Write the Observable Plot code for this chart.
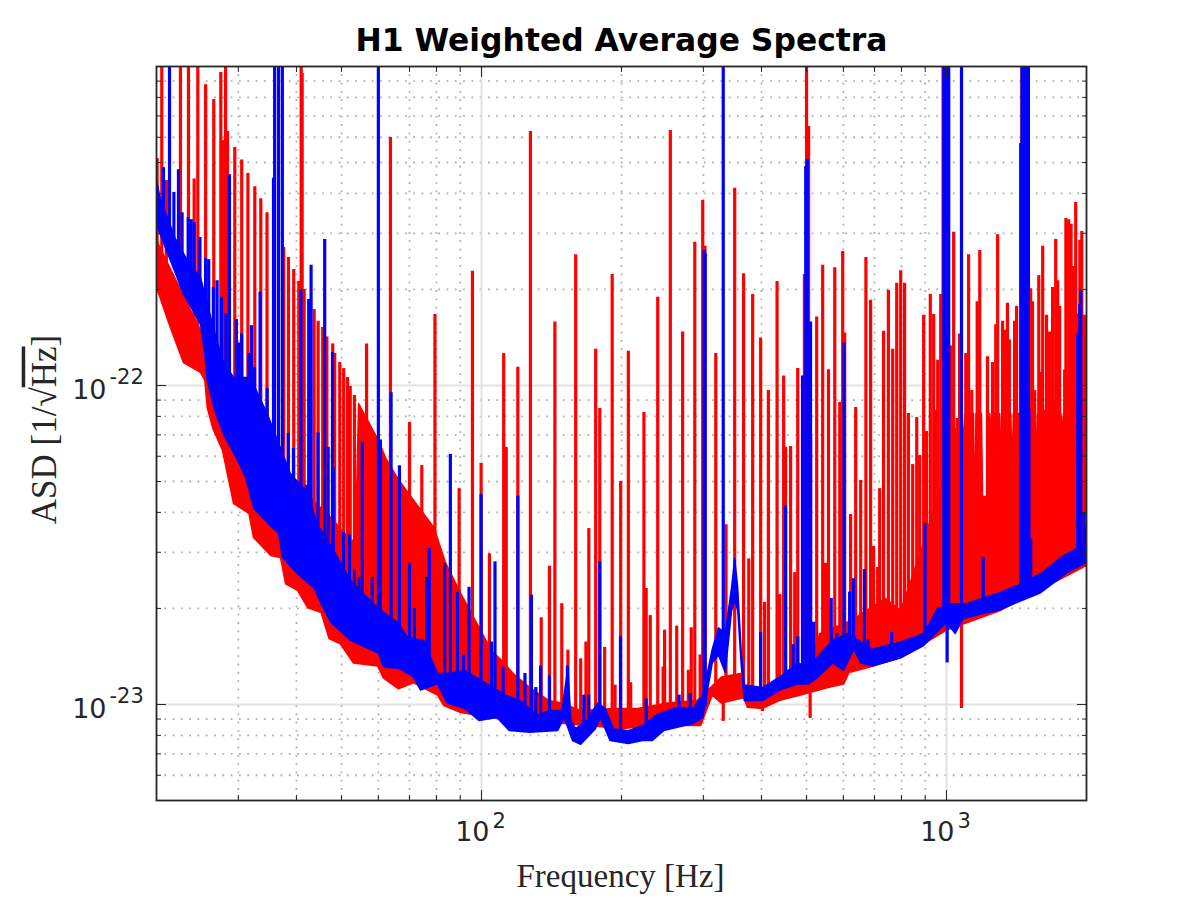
<!DOCTYPE html>
<html>
<head>
<meta charset="utf-8">
<script src="https://cdn.jsdelivr.net/npm/d3@7"></script>
<script src="https://cdn.jsdelivr.net/npm/@observablehq/plot@0.6"></script>
<style>
  body { margin: 0; background: white; }
</style>
</head>
<body>
<div id="chart"></div>
<script>
// all ASD values below are in units of 1e-23 1/sqrt(Hz), pairs are [frequency, asd]
const asdUnit = 1e-23

const redLow = [[20,20.3],[21.42,15.2],[22.85,11.8],[24.86,11],[25.4,10.4],[25.71,8.53],[26.4,7.38],[27.73,6.26],[29.28,4.27],[31.6,3.97],[32.33,3.34],[35.2,2.93],[36.95,2.89],[37.9,2.39],[40.2,2.28],[42.3,2.01],[45.2,1.94],[47,1.61],[49.7,1.55],[53,1.35],[59.75,1.32],[61.55,1.21],[66.3,1.12],[71.4,1.17],[80.4,1.07],[82.9,0.993],[90.2,0.944],[104.7,0.91],[150.6,0.871],[203,0.84],[227,0.859],[296,0.859],[313.5,1.07],[327.9,1.01],[366,1.05],[373,0.98],[402,0.972],[438,1.03],[486,1.07],[556,1.13],[601,1.16],[617,1.26],[684.5,1.31],[797,1.4],[1000,1.71],[1305,1.97],[2000,2.73]]

const redHigh = [[20,28.5],[25.4,14],[29.28,8.97],[37.5,5.42],[48.1,3.77],[52.2,3.27],[53.6,3.27],[54.4,8.78],[57.2,7.66],[59.75,6.82],[62.3,5.9],[66.3,5.07],[72.8,4.21],[79,3.59],[83.6,2.79],[90.2,2.23],[101.5,1.62],[104.7,1.48],[109.6,1.39],[117,1.25],[127,1.13],[139.5,1.03],[148.9,1.01],[163.4,0.957],[192,0.972],[216.5,0.972],[251,1.01],[291,1.03],[306.8,1.11],[327.9,1.22],[360.6,1.25],[366,1.11],[402,1.07],[438,1.16],[491,1.22],[535,1.67],[622,1.83],[738,2.15],[797,1.97],[882,3.04],[946,4.27],[1044,7.23],[1081,8.17],[1088,6.48],[1097,8.17],[1143,8.17],[1150,3.69],[1157,8.17],[1189,8.17],[1195,4.49],[1213,4.49],[1217,3.6],[1225,8.17],[1235,8.17],[1241,6.63],[1247,8.17],[1299,8.17],[1305,4.86],[1312,8.17],[1375,8.17],[1383,5.22],[1392,8.17],[1427,8.17],[1434,4.33],[1441,8.17],[1549,8.17],[1558,6.17],[1569,8.17],[1762,8.17],[1773,7.08],[1784,8.17],[2000,8.17]]

const blueLow = [[20,31.8],[21.42,24.7],[22.85,19.4],[24.86,15.6],[25.4,12.6],[25.71,10.4],[26.8,8.17],[28.1,6.87],[29.9,5.82],[31.1,5.15],[32.4,4.11],[34.8,3.69],[36.6,3.44],[37.35,2.89],[40.2,2.57],[43.7,2.31],[45.2,2.07],[47.4,1.81],[52.2,1.59],[60,1.45],[61.55,1.31],[66.3,1.3],[71.4,1.22],[73.9,1.11],[80.4,1.16],[84.4,1.01],[92,0.972],[98.7,0.891],[108,0.91],[114.8,0.828],[127,0.818],[145.7,0.828],[150.6,0.91],[156.9,0.771],[163.4,0.75],[175.8,0.84],[180,0.91],[189,0.771],[206.8,0.755],[222,0.771],[233,0.771],[246.5,0.828],[285,0.871],[299,0.91],[313.5,1.35],[323.2,1.43],[334.3,1.26],[345,1.97],[350.7,2.12],[355.6,1.97],[362,1.32],[367.5,1.03],[402,1.03],[438,1.11],[479,1.16],[505,1.16],[526,1.21],[569,1.35],[601,1.28],[632,1.49],[654,1.35],[692,1.32],[797,1.4],[893,1.53],[1000,1.81],[1044,1.67],[1086,1.86],[1202,1.93],[1288,1.97],[1420,2.09],[1594,2.24],[1816,2.59],[2000,2.79]]

const blueHigh = [[20,44.1],[20.4,38.2],[21.1,33.6],[21.9,29.1],[23.3,24.7],[24.86,21.8],[25.4,19.4],[26.5,15.2],[27.73,12],[29.28,10.6],[31.8,10.6],[34.6,8.17],[38.8,5.3],[42.3,4.59],[44.3,3.69],[48.1,3.04],[52.2,2.45],[59.75,2.01],[66,1.81],[69.4,1.62],[75,1.59],[80.4,1.25],[85.6,1.25],[92,1.28],[99.8,1.19],[106,1.13],[112.6,1.07],[121,1.03],[132,0.924],[140,0.957],[148.9,0.957],[153.4,1.31],[155.6,0.891],[159.4,0.84],[168.5,0.891],[177.5,1.01],[184.6,0.972],[192,0.84],[206.8,0.828],[222,0.859],[239,0.931],[264,0.98],[285,0.972],[299,1.07],[313.5,1.49],[323.2,1.74],[334.3,1.67],[345,2.33],[350.3,2.87],[355.5,2.33],[362,1.45],[367.5,1.15],[402,1.13],[438,1.22],[479,1.35],[505,1.31],[526,1.4],[569,1.59],[614,1.67],[692,1.49],[797,1.57],[893,1.67],[957,2],[1022,2.07],[1105,2.07],[1202,2.16],[1288,2.23],[1420,2.36],[1594,2.57],[1785,2.93],[2000,3.2]]

// 130 means the line runs off the top of the frame
const redSpikes = [[20.06,51.5],[20.53,130],[21,43.9],[22.52,130],[23.43,130],[24.1,44.4],[24.54,130],[25.51,87.6],[26.56,78.8],[27.5,95.8],[27.82,58.6],[28.16,130],[28.43,62.6],[29.47,55.7],[30.5,50.9],[31.45,46.2],[32.54,42],[33.52,38.5],[34.57,34.8],[37.54,27.1],[38.44,25.2],[39.46,23.1],[40.46,21.2],[40.94,130],[41.14,95.1],[41.55,20],[43.66,17.3],[44.53,15.9],[45.54,15.2],[46.5,14.2],[47.86,13.5],[48.34,12.6],[49.56,11.8],[50.53,11.3],[51.5,10.6],[52.2,9.93],[53.3,9.3],[56.6,13.5],[63.7,59.9],[70,7.66],[74.4,5.61],[79.4,16.7],[89.5,4.75],[95.6,22.8],[99.8,5.7],[104,2.97],
  [111.6,12.6],[113,6.4],[119.7,11.4],[127.4,62.6],[134.4,1.87],[140,2.71],[143.8,15.8],[148.8,2.07],[153.4,1.48],[159.4,25.7],[163.4,1.39],[167.7,1.57],[170.1,3.56],[176,13],[179.6,8.47],[184,1.51],[191,22.3],[193.7,1.15],[199.2,5],[206.9,12.8],[209.3,1.17],[223.5,8.23],[226,2.31],[230.6,1.9],[239.3,18.9],[245.8,1.31],[247.6,1.71],[254.7,63],[262.9,1.76],[270.7,14.7],[278.5,1.28],[282.5,1.74],[287.5,28.1],[295.2,1.43],[299,38],[302.4,27.3],[319,12.6],[331,0.885],[335.6,3.66],[350.3,41.5],[366.1,22.4],[375.6,2.86],[382.9,19.3],[398.4,14.1],[402,0.95],[406.2,2.09],[413.9,9.64],[432.1,21.2],[437.9,2.21],[446.4,10.7],[450.7,6.4],[462.1,6.44],[471.6,2.59],[478.7,11.3],[494.7,22.3],[500,130],[505.1,64.9],[509,0.904],
  [510.3,6.87],[525.8,16.4],[534.9,1.67],[541.6,23.8],[549.5,2.77],[557.3,11.2],[575,23.4],[589.4,8.85],[598,26.3],[603.9,14.6],[621.9,3.94],[637.8,8.53],[653.7,5.04],[670.9,25.2],[686.6,18.5],[697,3.13],[711.2,2.69],[718.2,4.75],[732.2,14.8],[749.8,19.9],[766,13],[781.5,20.9],[797,22.9],[812.5,20.9],[828,8.17],[845.8,5.65],[862.9,7.93],[875.7,6.03],[892.9,16.6],[905.7,7.17],[922.9,19.3],[938.4,16.7],[946,8.36],[957.3,12],[971.7,19.3],[982.9,130],[1022,13.3],[1029,8.65],[1036,30.2],[1054,7.88],[1067,14.5],[1077,0.972],[1100,12.6],[1115.6,25.7],[1133,9.64],[1164,18.3],[1179,26.5],[1225,12.3],[1256,11.8],[1276,15.5],[1288,29.7],[1320,15.9],[1339,14.9],[1352,18.1],[1365,13.9],[1401,15.9],[1415,17.7],[1453,130],[1517,20.1],[1531,18.3],[1548,9.64],[1579,22.1],[1584,8.97],[1594,11],[1610,27.3],[1622,8.36],[1641,16.6],[1655,9.3],[1665,14.7],[1680,7.79],[1691,20.3],[1706,8.97],[1717,28.7],[1734,21.3],[1751,17.7],[1795,11.2],[1806,33.4],[1831,33.1],[1853,32],[1874,23.6],[1884,9.3],[1896,37.5],[1915,16.8],[1935,28.5],[1954,30.4],[1961,8.97],[1980,16.6],[1990,9.3]]

const blueSpikes = [[20.7,48.2],[21.33,130],[21.8,40.3],[22.3,47.5],[22.7,34.8],[23.4,33.6],[23.75,33.1],[24.1,32.4],[24.8,29.1],[25.5,25],[25.9,24.8],[26.5,20.3],[27,21.3],[27.6,18.9],[28.2,16.8],[28.7,45.8],[29.7,16.1],[30,13.6],[30.5,14.5],[31.6,12.6],[32,15.4],[32.5,11.4],[33.4,19.6],[34.6,9.8],[35.7,44.6],[35.9,130],[36.6,130],[37.3,130],[38.4,7.08],[39.4,6.35],[40.9,19.9],[42,4.87],[42.5,18.6],[43,23.8],[44.5,7.1],[46,28.7],[46.8,6.4],[47.8,12.7],[48,5.53],[50.5,3.46],[52,3.4],[53.3,2.63],[54.5,2.5],[55.4,6.63],[58.2,2.5],[60,130],[60.6,6.75],[63.9,9.5],[66.6,5.6],[70,2.77],[71.7,2],[76.2,2.5],[77.2,3.08],[83.3,2.77],[85.7,6.08],[88.8,2.24],[91.5,1.43],[94,2.33],[99.8,4.55],
  [105,1.57],[106.9,2.8],[111.3,1.31],[119.7,4.5],[124,1.25],[128,2.2],[130.9,1.13],[134,1.32],[140,1.23],[153,1.32],[166,1.07],[170,1.07],[179.6,2.8],[199,1.63],[226,1.04],[266,1.07],[281,1.08],[301,26.5],[302.7,25.9],[331,130],[398.4,1.68],[450.7,4.2],[468,1.54],[478.7,1.63],[490,10.7],[498,48.6],[502,51.2],[510,15.8],[518,1.81],[541.6,1.43],[565,2.15],[581,1.67],[602,13.6],[619,2.25],[631,2.48],[666,2.65],[678,1.6],[762,1.68],[899,3.69],[986.7,130],[1000,130],[1003,1.35],[1011,130],[1077,130],[1199,2.89],[1444,57.4],[1453,130],[1467,130],[1480,130],[1500,130],[1504,8.35],[1517,3.3],[1915,14.5],[1935,18],[1944,19.8],[1975,3.97],[2000,3.63]]

const xMajor = [100, 1000]
const xMinor = [30,40,50,60,70,80,90,200,300,400,500,600,700,800,900]
const yMajor = [1e-23, 1e-22]
const yMinor = [6e-24,7e-24,8e-24,9e-24,2e-23,3e-23,4e-23,5e-23,6e-23,7e-23,8e-23,9e-23,2e-22,3e-22,4e-22,5e-22,6e-22,7e-22,8e-22,9e-22]
const xTickLabels = [[100,"2"],[1000,"3"]]
const yTickLabels = [[1e-23,"-23"],[1e-22,"-22"]]

const chartTitle = "H1 Weighted Average Spectra"
const xTitle = "Frequency [Hz]"
const yTitle = "ASD [1/√Hz]"

// outline of a trace: along its lower edge, back along its upper edge
function outline(low, high) {
  return [...low, ...high.slice().reverse()].map(([f, a]) => ({ f, asd: a * asdUnit }))
}

// each spike starts inside the band of its own trace
function spikes(list, low, high) {
  const nearest = (edge, f) => edge[d3.bisector(d => d[0]).center(edge, f)][1]
  return list.map(([f, a]) => ({
    f,
    top: a * asdUnit,
    base: Math.sqrt(nearest(low, f) * nearest(high, f)) * asdUnit
  }))
}

const inkColor = "#262626"
const frameInk = { stroke: inkColor, strokeWidth: 1, fill: "none", label: null }
const dotted = { stroke: "#b0b0b0", strokeWidth: 1.8, strokeDasharray: "1.8,6.5" }

let chart = Plot.plot({
  width: 1200,
  height: 900,
  marginTop: 66,
  marginLeft: 156,
  marginRight: 114,
  marginBottom: 100,
  style: { background: "white", fontFamily: "DejaVu Sans" },
  x: { type: "log", domain: [20, 2000], axis: null },
  y: { type: "log", domain: [5e-24, 1e-21], axis: null },
  marks: [
    // grid
    Plot.ruleX(xMinor, dotted),
    Plot.ruleY(yMinor, dotted),
    Plot.ruleX(xMajor, { stroke: "#e2e2e2", strokeWidth: 2 }),
    Plot.ruleY(yMajor, { stroke: "#e2e2e2", strokeWidth: 2 }),

    // traces
    Plot.line(outline(redLow, redHigh), { x: "f", y: "asd", fill: "#ff0000", stroke: "#ff0000", strokeWidth: 1.5, clip: true }),
    Plot.ruleX(spikes(redSpikes, redLow, redHigh), { x: "f", y1: "base", y2: "top", stroke: "#ff0000", strokeWidth: 3.2, clip: true }),
    Plot.line(outline(blueLow, blueHigh), { x: "f", y: "asd", fill: "#0000ff", stroke: "#0000ff", strokeWidth: 1.5, clip: true }),
    Plot.ruleX(spikes(blueSpikes, blueLow, blueHigh), { x: "f", y1: "base", y2: "top", stroke: "#0000ff", strokeWidth: 3.2, clip: true }),

    // box and inward ticks on all four sides
    Plot.frame({ stroke: inkColor, strokeWidth: 1.8 }),
    Plot.axisX(xMajor, { ...frameInk, anchor: "bottom", tickSize: -10 }),
    Plot.axisX(xMajor, { ...frameInk, anchor: "top", tickSize: -10 }),
    Plot.axisX(xMinor, { ...frameInk, anchor: "bottom", tickSize: -5 }),
    Plot.axisX(xMinor, { ...frameInk, anchor: "top", tickSize: -5 }),
    Plot.axisY(yMajor, { ...frameInk, anchor: "left", tickSize: -10 }),
    Plot.axisY(yMajor, { ...frameInk, anchor: "right", tickSize: -10 }),
    Plot.axisY(yMinor, { ...frameInk, anchor: "left", tickSize: -5 }),
    Plot.axisY(yMinor, { ...frameInk, anchor: "right", tickSize: -5 }),

    // power-of-ten labels
    Plot.text(xTickLabels, { x: d => d[0], frameAnchor: "bottom", text: () => "10", textAnchor: "end", dx: 8, dy: 40, fontSize: 27, fill: inkColor }),
    Plot.text(xTickLabels, { x: d => d[0], frameAnchor: "bottom", text: d => d[1], textAnchor: "start", dx: 11, dy: 27, fontSize: 21, fill: inkColor }),
    Plot.text(yTickLabels, { y: d => d[0], frameAnchor: "left", text: () => "10", textAnchor: "end", dx: -50, dy: 5, fontSize: 27, fill: inkColor }),
    Plot.text(yTickLabels, { y: d => d[0], frameAnchor: "left", text: d => d[1], textAnchor: "start", dx: -47, dy: -8, fontSize: 21, fill: inkColor }),

    // titles
    Plot.text([chartTitle], { frameAnchor: "top", dy: -38, fontSize: 31.4, fontWeight: "bold", fill: "black" }),
    Plot.text([xTitle], { frameAnchor: "bottom", dy: 86, dx: -1, fontSize: 33, fontFamily: "Liberation Serif", fill: inkColor }),
    Plot.text([yTitle], { frameAnchor: "left", dx: -112, dy: -4, rotate: -90, textAnchor: "middle", fontSize: 35, letterSpacing: 1, fontFamily: "Liberation Serif", fill: inkColor })
  ]
})

// the square root sign needs its bar over Hz
d3.select(chart).selectAll("text")
  .filter(function () { return this.textContent == yTitle })
  .each(function () {
    const t = d3.select(this).text("ASD [1/√")
    t.append("tspan").style("text-decoration", "overline").text("Hz")
    t.append("tspan").text("]")
  })

d3.select("#chart").append(() => chart)
</script>
</body>
</html>
